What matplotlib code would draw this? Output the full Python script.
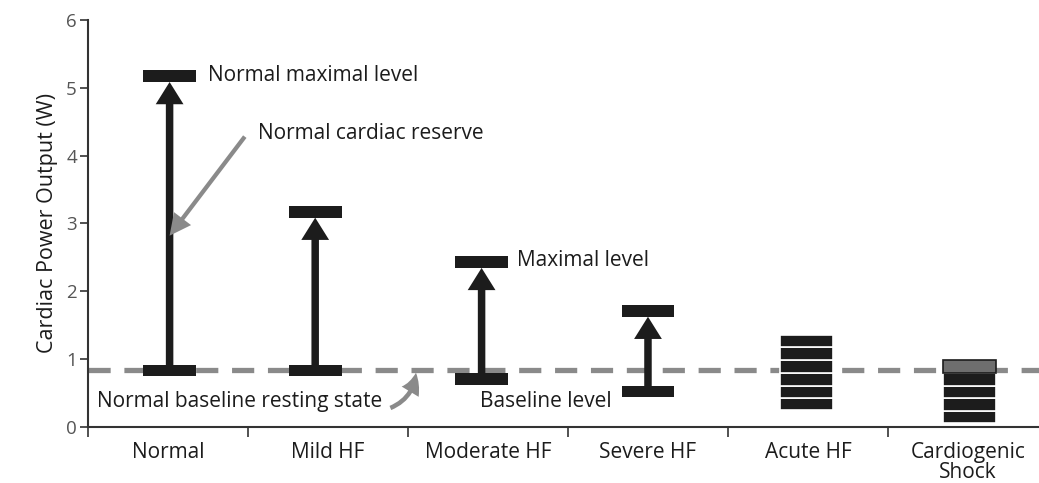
import numpy as np
import matplotlib.pyplot as plt
from matplotlib.patches import FancyArrowPatch

plt.rcParams['font.family'] = ['Open Sans', 'DejaVu Sans']

# Data
categories = ["Normal", "Mild HF", "Moderate HF", "Severe HF", "Acute HF", "Cardiogenic\nShock"]
cat_x = [0.5, 1.5, 2.5, 3.5, 4.5, 5.5]          # label positions
range_x = [0.51, 1.42, 2.46, 3.50]              # bar positions for the reserve ranges
baseline_cpo = [0.83, 0.83, 0.71, 0.52]         # baseline level (W)
maximal_cpo = [5.17, 3.17, 2.43, 1.71]          # maximal level (W)
normal_baseline = 0.84

acute_x = 4.49
acute_levels = [0.25, 0.42, 0.61, 0.79, 0.98, 1.18, 1.36]
shock_x = 5.51
shock_levels = [0.06, 0.23, 0.42, 0.61, 0.79, 0.98]

BLACK = "#1c1c1c"
GRAY = "#8a8a8a"

fig = plt.figure(figsize=(10.39, 4.83), dpi=100)
ax = fig.add_axes([0.0847, 0.116, 0.9153, 0.8427])
ax.set_xlim(0, 5.944)
ax.set_ylim(0, 6)

# normal baseline dashed line
ax.axhline(normal_baseline, color=GRAY, lw=3.8, dashes=(4.2, 2.6), zorder=1)

cap_h = 0.17
bar_w = 0.33
for x, b, m in zip(range_x, baseline_cpo, maximal_cpo):
    ax.bar(x, cap_h, bottom=b - cap_h / 2, width=bar_w, color=BLACK, zorder=3)
    ax.bar(x, cap_h, bottom=m - cap_h / 2, width=bar_w, color=BLACK, zorder=3)
    arr = FancyArrowPatch((x, b), (x, m - cap_h / 2),
                          arrowstyle="simple,head_length=0.8,head_width=1.0,tail_width=0.27",
                          mutation_scale=20, color=BLACK, lw=0, shrinkA=0, shrinkB=0, zorder=3)
    ax.add_patch(arr)

# stacked boxes for acute HF and cardiogenic shock
for lo, hi in zip(acute_levels[:-1], acute_levels[1:]):
    ax.bar(acute_x, hi - lo, bottom=lo, width=bar_w, color=BLACK,
           edgecolor="white", lw=1.2, zorder=3)
for i, (lo, hi) in enumerate(zip(shock_levels[:-1], shock_levels[1:])):
    top = i == len(shock_levels) - 2
    ax.bar(shock_x, hi - lo, bottom=lo, width=bar_w,
           color="#6e6e6e" if top else BLACK,
           edgecolor=BLACK if top else "white", lw=1.2, zorder=3)

# annotations
fs = 15
ax.text(0.75, 5.18, "Normal maximal level", fontsize=fs, va="center", color=BLACK)
ax.text(1.06, 4.32, "Normal cardiac reserve", fontsize=fs, va="center", color=BLACK)
ax.text(2.68, 2.45, "Maximal level", fontsize=fs, va="center", color=BLACK)
ax.text(2.45, 0.37, "Baseline level", fontsize=fs, va="center", color=BLACK)
ax.text(0.056, 0.37, "Normal baseline resting state", fontsize=fs, va="center", color=BLACK)

ax.add_patch(FancyArrowPatch((0.98, 4.28), (0.51, 2.82),
                             arrowstyle="simple,head_length=1.1,head_width=1.1,tail_width=0.22",
                             mutation_scale=14, color=GRAY, lw=0, shrinkA=0, shrinkB=0, zorder=4))
ax.add_patch(FancyArrowPatch((1.89, 0.28), (2.05, 0.80),
                             connectionstyle="arc3,rad=0.3",
                             arrowstyle="simple,head_length=1.1,head_width=1.1,tail_width=0.25",
                             mutation_scale=13, color=GRAY, lw=0, shrinkA=0, shrinkB=0, zorder=4))

# axes styling
for s in ["top", "right"]:
    ax.spines[s].set_visible(False)
for s in ["left", "bottom"]:
    ax.spines[s].set_color("#333333")
    ax.spines[s].set_linewidth(1.5)

ax.set_yticks(range(7))
ax.tick_params(axis="y", length=6, width=1.2, color="#333333", labelsize=13.5,
               labelcolor="#555555", pad=2)
ax.set_xticks(range(6))
ax.set_xticklabels([])
ax.tick_params(axis="x", which="major", length=7, width=1.2, color="#333333")
ax.set_xticks(cat_x, minor=True)
ax.set_xticklabels(categories, minor=True, fontsize=fs, color=BLACK, linespacing=0.95)
ax.tick_params(axis="x", which="minor", length=0, pad=11)

ax.set_ylabel("Cardiac Power Output (W)", fontsize=15.5, color=BLACK, labelpad=6)

fig.savefig("out.png", dpi=100)
